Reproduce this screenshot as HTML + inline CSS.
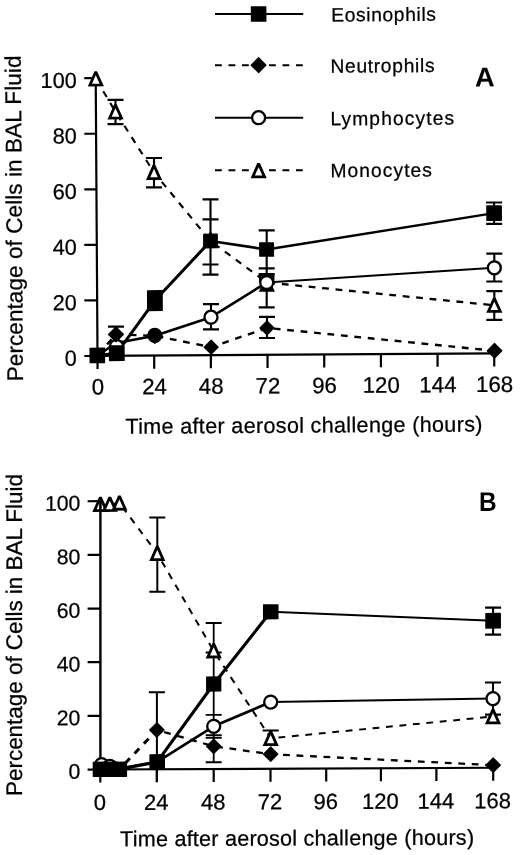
<!DOCTYPE html>
<html><head><meta charset="utf-8"><title>Figure</title>
<style>html,body{margin:0;padding:0;background:#fff;overflow:hidden}svg{display:block;position:absolute;left:0;top:0;filter:grayscale(1) blur(0.35px)}</style></head>
<body><svg width="520" height="855" viewBox="0 0 520 855">
<rect width="520" height="855" fill="#fff"/>
<g transform="rotate(-0.37 260 215)">
<line x1="216.3" y1="13.71" x2="304.5" y2="14.28" stroke="#000" stroke-width="2.0" stroke-linecap="butt"/>
<rect x="252.10" y="6.19" width="15.6" height="15.6" rx="0.6" fill="#000"/>
<line x1="215.97" y1="64.91" x2="304.17" y2="65.48" stroke="#000" stroke-width="2.0" stroke-dasharray="6.8 6.7" stroke-dashoffset="0" stroke-linecap="butt"/>
<polygon points="259.57,57.79 266.97,65.19 259.57,72.59 252.17,65.19" fill="#000" stroke="#000" stroke-width="1.2" stroke-linejoin="round"/>
<line x1="215.63" y1="117.41" x2="303.83" y2="117.98" stroke="#000" stroke-width="2.0" stroke-linecap="butt"/>
<circle cx="259.23" cy="117.69" r="6.5" fill="#fff" stroke="#000" stroke-width="2.3"/>
<line x1="215.29" y1="170.01" x2="303.49" y2="170.58" stroke="#000" stroke-width="2.0" stroke-dasharray="6.8 6.7" stroke-dashoffset="0" stroke-linecap="butt"/>
<polygon points="258.89,163.64 264.79,176.84 252.99,176.84" fill="#fff" stroke="#000" stroke-width="2.8" stroke-linejoin="miter" stroke-miterlimit="2"/>
<text x="332.45" y="21.96" font-family="Liberation Sans, sans-serif" font-size="19.3" font-weight="normal" text-anchor="start" fill="#000" stroke="#000" stroke-width="0.25" textLength="104.8" lengthAdjust="spacing">Eosinophils</text>
<text x="331.32" y="73.15" font-family="Liberation Sans, sans-serif" font-size="19.3" font-weight="normal" text-anchor="start" fill="#000" stroke="#000" stroke-width="0.25" textLength="104.2" lengthAdjust="spacing">Neutrophils</text>
<text x="330.98" y="125.75" font-family="Liberation Sans, sans-serif" font-size="19.3" font-weight="normal" text-anchor="start" fill="#000" stroke="#000" stroke-width="0.25" textLength="123.8" lengthAdjust="spacing">Lymphocytes</text>
<text x="330.64" y="177.65" font-family="Liberation Sans, sans-serif" font-size="19.3" font-weight="normal" text-anchor="start" fill="#000" stroke="#000" stroke-width="0.25" textLength="101.6" lengthAdjust="spacing">Monocytes</text>
<text x="475.83" y="87.89" font-family="Liberation Sans, sans-serif" font-size="27.3" font-weight="bold" text-anchor="start" fill="#000" textLength="19.7" lengthAdjust="spacingAndGlyphs">A</text>
<line x1="96.6" y1="75.94" x2="96.6" y2="355.95" stroke="#000" stroke-width="2.2" stroke-linecap="butt"/>
<line x1="94.59" y1="354.9" x2="494.41" y2="354.9" stroke="#000" stroke-width="2.2" stroke-linecap="butt"/>
<line x1="83.39" y1="354.86" x2="96.6" y2="354.95" stroke="#000" stroke-width="2.2" stroke-linecap="butt"/>
<line x1="83.75" y1="299.3" x2="96.6" y2="299.39" stroke="#000" stroke-width="2.2" stroke-linecap="butt"/>
<line x1="84.11" y1="243.74" x2="96.6" y2="243.82" stroke="#000" stroke-width="2.2" stroke-linecap="butt"/>
<line x1="84.47" y1="188.18" x2="96.6" y2="188.26" stroke="#000" stroke-width="2.2" stroke-linecap="butt"/>
<line x1="84.82" y1="132.62" x2="96.6" y2="132.7" stroke="#000" stroke-width="2.2" stroke-linecap="butt"/>
<line x1="85.18" y1="77.06" x2="96.6" y2="77.14" stroke="#000" stroke-width="2.2" stroke-linecap="butt"/>
<line x1="96.63" y1="354.4" x2="96.54" y2="368.0" stroke="#000" stroke-width="2.2" stroke-linecap="butt"/>
<line x1="153.3" y1="354.4" x2="153.22" y2="368.0" stroke="#000" stroke-width="2.2" stroke-linecap="butt"/>
<line x1="209.98" y1="354.4" x2="209.89" y2="368.0" stroke="#000" stroke-width="2.2" stroke-linecap="butt"/>
<line x1="266.65" y1="354.4" x2="266.56" y2="368.0" stroke="#000" stroke-width="2.2" stroke-linecap="butt"/>
<line x1="323.32" y1="354.4" x2="323.24" y2="368.0" stroke="#000" stroke-width="2.2" stroke-linecap="butt"/>
<line x1="380.0" y1="354.4" x2="379.91" y2="368.0" stroke="#000" stroke-width="2.2" stroke-linecap="butt"/>
<line x1="436.67" y1="354.4" x2="436.58" y2="368.0" stroke="#000" stroke-width="2.2" stroke-linecap="butt"/>
<line x1="493.34" y1="354.4" x2="493.26" y2="368.0" stroke="#000" stroke-width="2.2" stroke-linecap="butt"/>
<text x="75.83" y="364.51" font-family="Liberation Sans, sans-serif" font-size="21.7" font-weight="normal" text-anchor="end" fill="#000" stroke="#000" stroke-width="0.25">0</text>
<text x="76.19" y="308.95" font-family="Liberation Sans, sans-serif" font-size="21.7" font-weight="normal" text-anchor="end" fill="#000" stroke="#000" stroke-width="0.25">20</text>
<text x="76.54" y="253.39" font-family="Liberation Sans, sans-serif" font-size="21.7" font-weight="normal" text-anchor="end" fill="#000" stroke="#000" stroke-width="0.25">40</text>
<text x="76.9" y="197.83" font-family="Liberation Sans, sans-serif" font-size="21.7" font-weight="normal" text-anchor="end" fill="#000" stroke="#000" stroke-width="0.25">60</text>
<text x="77.26" y="142.27" font-family="Liberation Sans, sans-serif" font-size="21.7" font-weight="normal" text-anchor="end" fill="#000" stroke="#000" stroke-width="0.25">80</text>
<text x="77.62" y="86.71" font-family="Liberation Sans, sans-serif" font-size="21.7" font-weight="normal" text-anchor="end" fill="#000" stroke="#000" stroke-width="0.25">100</text>
<text x="96.77" y="393.5" font-family="Liberation Sans, sans-serif" font-size="22.3" font-weight="normal" text-anchor="middle" fill="#000" stroke="#000" stroke-width="0.25">0</text>
<text x="153.44" y="393.5" font-family="Liberation Sans, sans-serif" font-size="22.3" font-weight="normal" text-anchor="middle" fill="#000" stroke="#000" stroke-width="0.25">24</text>
<text x="210.12" y="393.5" font-family="Liberation Sans, sans-serif" font-size="22.3" font-weight="normal" text-anchor="middle" fill="#000" stroke="#000" stroke-width="0.25">48</text>
<text x="266.79" y="393.5" font-family="Liberation Sans, sans-serif" font-size="22.3" font-weight="normal" text-anchor="middle" fill="#000" stroke="#000" stroke-width="0.25">72</text>
<text x="323.46" y="393.5" font-family="Liberation Sans, sans-serif" font-size="22.3" font-weight="normal" text-anchor="middle" fill="#000" stroke="#000" stroke-width="0.25">96</text>
<text x="380.14" y="393.5" font-family="Liberation Sans, sans-serif" font-size="22.3" font-weight="normal" text-anchor="middle" fill="#000" stroke="#000" stroke-width="0.25">120</text>
<text x="436.81" y="393.5" font-family="Liberation Sans, sans-serif" font-size="22.3" font-weight="normal" text-anchor="middle" fill="#000" stroke="#000" stroke-width="0.25">144</text>
<text x="493.49" y="393.5" font-family="Liberation Sans, sans-serif" font-size="22.3" font-weight="normal" text-anchor="middle" fill="#000" stroke="#000" stroke-width="0.25">168</text>
<text x="124.09" y="432.93" font-family="Liberation Sans, sans-serif" font-size="21.6" font-weight="normal" text-anchor="start" fill="#000" stroke="#000" stroke-width="0.25" textLength="357.0" lengthAdjust="spacing">Time after aerosol challenge (hours)</text>
<text x="21.83" y="379.77" font-family="Liberation Sans, sans-serif" font-size="22.6" font-weight="normal" text-anchor="start" fill="#000" stroke="#000" stroke-width="0.25" textLength="325.8" lengthAdjust="spacing" transform="rotate(-90 21.83 379.77)">Percentage of Cells in BAL Fluid</text>
<polyline points="96.68,77.74 116.17,110.87 154.28,171.72 210.33,240.68 266.26,282.54" fill="none" stroke="#000" stroke-width="2.1" stroke-dasharray="6.8 6.7" stroke-dashoffset="12.5" stroke-linejoin="round"/>
<polyline points="266.26,282.54 493.72,306.81" fill="none" stroke="#000" stroke-width="2.3" stroke-dasharray="6.8 6.7" stroke-dashoffset="11.8" stroke-linejoin="round"/>
<polyline points="96.39,354.35 115.23,333.47 154.02,335.12 210.35,346.88 266.27,327.95 493.62,352.31" fill="none" stroke="#000" stroke-width="2.4" stroke-dasharray="6.8 6.7" stroke-dashoffset="12.2" stroke-linejoin="round"/>
<polyline points="96.39,354.35 115.67,342.07 154.02,335.12 210.34,316.88 266.26,282.54" fill="none" stroke="#000" stroke-width="2.6" stroke-linejoin="round"/>
<polyline points="266.26,282.54 493.96,269.31" fill="none" stroke="#000" stroke-width="2.0" stroke-linejoin="round"/>
<polyline points="96.39,354.35 115.91,352.28 154.35,299.92 210.33,240.68" fill="none" stroke="#000" stroke-width="3.0" stroke-linejoin="round"/>
<polyline points="210.33,240.68 266.38,249.54" fill="none" stroke="#000" stroke-width="2.7" stroke-linejoin="round"/>
<polyline points="266.38,249.54 494.11,214.61" fill="none" stroke="#000" stroke-width="2.3" stroke-linejoin="round"/>
<line x1="116.24" y1="98.97" x2="116.09" y2="123.17" stroke="#000" stroke-width="2.1" stroke-linecap="butt"/>
<line x1="108.24" y1="98.92" x2="124.24" y2="99.02" stroke="#000" stroke-width="2.2" stroke-linecap="butt"/>
<line x1="108.09" y1="123.12" x2="124.09" y2="123.22" stroke="#000" stroke-width="2.2" stroke-linecap="butt"/>
<line x1="154.37" y1="157.32" x2="154.18" y2="186.62" stroke="#000" stroke-width="2.1" stroke-linecap="butt"/>
<line x1="146.37" y1="157.26" x2="162.37" y2="157.37" stroke="#000" stroke-width="2.2" stroke-linecap="butt"/>
<line x1="146.18" y1="186.56" x2="162.18" y2="186.67" stroke="#000" stroke-width="2.2" stroke-linecap="butt"/>
<line x1="210.6" y1="198.98" x2="210.11" y2="274.38" stroke="#000" stroke-width="2.1" stroke-linecap="butt"/>
<line x1="202.6" y1="198.93" x2="218.6" y2="199.03" stroke="#000" stroke-width="2.2" stroke-linecap="butt"/>
<line x1="202.47" y1="218.93" x2="218.47" y2="219.03" stroke="#000" stroke-width="2.2" stroke-linecap="butt"/>
<line x1="202.18" y1="264.13" x2="218.18" y2="264.23" stroke="#000" stroke-width="2.2" stroke-linecap="butt"/>
<line x1="202.11" y1="274.33" x2="218.11" y2="274.43" stroke="#000" stroke-width="2.2" stroke-linecap="butt"/>
<line x1="266.6" y1="230.44" x2="266.1" y2="307.44" stroke="#000" stroke-width="2.1" stroke-linecap="butt"/>
<line x1="258.6" y1="230.39" x2="274.6" y2="230.49" stroke="#000" stroke-width="2.2" stroke-linecap="butt"/>
<line x1="258.36" y1="268.29" x2="274.36" y2="268.39" stroke="#000" stroke-width="2.2" stroke-linecap="butt"/>
<line x1="258.32" y1="274.09" x2="274.32" y2="274.19" stroke="#000" stroke-width="2.2" stroke-linecap="butt"/>
<line x1="258.1" y1="307.39" x2="274.1" y2="307.49" stroke="#000" stroke-width="2.2" stroke-linecap="butt"/>
<line x1="210.42" y1="303.88" x2="210.26" y2="329.08" stroke="#000" stroke-width="2.1" stroke-linecap="butt"/>
<line x1="202.42" y1="303.83" x2="218.42" y2="303.94" stroke="#000" stroke-width="2.2" stroke-linecap="butt"/>
<line x1="202.26" y1="329.03" x2="218.26" y2="329.14" stroke="#000" stroke-width="2.2" stroke-linecap="butt"/>
<line x1="266.34" y1="316.85" x2="266.21" y2="338.05" stroke="#000" stroke-width="2.1" stroke-linecap="butt"/>
<line x1="258.34" y1="316.79" x2="274.34" y2="316.9" stroke="#000" stroke-width="2.2" stroke-linecap="butt"/>
<line x1="258.21" y1="337.99" x2="274.21" y2="338.1" stroke="#000" stroke-width="2.2" stroke-linecap="butt"/>
<line x1="115.28" y1="325.77" x2="115.19" y2="339.07" stroke="#000" stroke-width="2.1" stroke-linecap="butt"/>
<line x1="107.28" y1="325.72" x2="123.28" y2="325.82" stroke="#000" stroke-width="2.2" stroke-linecap="butt"/>
<line x1="494.18" y1="204.01" x2="494.04" y2="225.41" stroke="#000" stroke-width="2.1" stroke-linecap="butt"/>
<line x1="486.18" y1="203.96" x2="502.18" y2="204.06" stroke="#000" stroke-width="2.2" stroke-linecap="butt"/>
<line x1="486.04" y1="225.36" x2="502.04" y2="225.46" stroke="#000" stroke-width="2.2" stroke-linecap="butt"/>
<line x1="494.05" y1="255.11" x2="493.87" y2="283.01" stroke="#000" stroke-width="2.1" stroke-linecap="butt"/>
<line x1="486.05" y1="255.06" x2="502.05" y2="255.16" stroke="#000" stroke-width="2.2" stroke-linecap="butt"/>
<line x1="485.87" y1="282.96" x2="501.87" y2="283.06" stroke="#000" stroke-width="2.2" stroke-linecap="butt"/>
<line x1="493.81" y1="292.61" x2="493.62" y2="321.31" stroke="#000" stroke-width="2.1" stroke-linecap="butt"/>
<line x1="485.81" y1="292.56" x2="501.81" y2="292.66" stroke="#000" stroke-width="2.2" stroke-linecap="butt"/>
<line x1="485.62" y1="321.26" x2="501.62" y2="321.36" stroke="#000" stroke-width="2.2" stroke-linecap="butt"/>
<polygon points="96.68,70.74 102.58,83.94 90.78,83.94" fill="#fff" stroke="#000" stroke-width="2.8" stroke-linejoin="miter" stroke-miterlimit="2"/>
<polygon points="116.17,103.87 122.07,117.07 110.27,117.07" fill="#fff" stroke="#000" stroke-width="2.8" stroke-linejoin="miter" stroke-miterlimit="2"/>
<polygon points="154.28,164.72 160.18,177.92 148.38,177.92" fill="#fff" stroke="#000" stroke-width="2.8" stroke-linejoin="miter" stroke-miterlimit="2"/>
<polygon points="210.34,232.88 216.24,246.08 204.44,246.08" fill="#000" stroke="#000" stroke-width="2.8" stroke-linejoin="miter" stroke-miterlimit="2"/>
<polygon points="266.35,277.14 272.25,290.34 260.45,290.34" fill="#000" stroke="#000" stroke-width="2.8" stroke-linejoin="miter" stroke-miterlimit="2"/>
<rect x="258.54" y="273.84" width="15.5" height="8.2" rx="0.6" fill="#000"/>
<polygon points="493.72,299.71 499.62,312.91 487.82,312.91" fill="#fff" stroke="#000" stroke-width="2.8" stroke-linejoin="miter" stroke-miterlimit="2"/>
<circle cx="115.65" cy="345.37" r="6.5" fill="#fff" stroke="#000" stroke-width="2.3"/>
<polygon points="115.23,325.97 122.73,333.47 115.23,340.97 107.73,333.47" fill="#000" stroke="#000" stroke-width="1.2" stroke-linejoin="round"/>
<polygon points="210.35,339.88 217.35,346.88 210.35,353.88 203.35,346.88" fill="#000" stroke="#000" stroke-width="1.2" stroke-linejoin="round"/>
<polygon points="266.27,320.95 273.27,327.95 266.27,334.95 259.27,327.95" fill="#000" stroke="#000" stroke-width="1.2" stroke-linejoin="round"/>
<polygon points="493.62,345.01 500.92,352.31 493.62,359.61 486.32,352.31" fill="#000" stroke="#000" stroke-width="1.2" stroke-linejoin="round"/>
<circle cx="154.02" cy="334.72" r="6.5" fill="#000" stroke="#000" stroke-width="2.3"/>
<polygon points="154.02,327.92 161.42,335.32 154.02,342.72 146.62,335.32" fill="#000" stroke="#000" stroke-width="1.2" stroke-linejoin="round"/>
<circle cx="210.34" cy="316.88" r="6.5" fill="#fff" stroke="#000" stroke-width="2.3"/>
<circle cx="266.26" cy="282.54" r="6.5" fill="#fff" stroke="#000" stroke-width="2.3"/>
<circle cx="493.96" cy="269.31" r="6.5" fill="#fff" stroke="#000" stroke-width="2.3"/>
<rect x="88.59" y="346.55" width="15.6" height="15.6" rx="0.6" fill="#000"/>
<rect x="108.01" y="344.38" width="15.8" height="15.8" rx="0.6" fill="#000"/>
<rect x="146.45" y="289.42" width="15.8" height="21" rx="0.6" fill="#000"/>
<rect x="202.93" y="233.28" width="14.8" height="14.8" rx="0.6" fill="#000"/>
<rect x="258.88" y="242.24" width="15.0" height="14.6" rx="0.6" fill="#000"/>
<rect x="486.26" y="206.76" width="15.7" height="15.7" rx="0.6" fill="#000"/>
</g>
<g transform="translate(0 1.162) skewY(-0.256)">
<line x1="100.4" y1="499.69" x2="100.4" y2="770.29" stroke="#000" stroke-width="2.4" stroke-linecap="butt"/>
<line x1="99.2" y1="768.79" x2="494.3" y2="768.79" stroke="#000" stroke-width="2.2" stroke-linecap="butt"/>
<line x1="87.6" y1="768.76" x2="100.4" y2="768.81" stroke="#000" stroke-width="2.2" stroke-linecap="butt"/>
<line x1="87.6" y1="715.1" x2="100.4" y2="715.15" stroke="#000" stroke-width="2.2" stroke-linecap="butt"/>
<line x1="87.6" y1="661.44" x2="100.4" y2="661.49" stroke="#000" stroke-width="2.2" stroke-linecap="butt"/>
<line x1="87.6" y1="607.78" x2="100.4" y2="607.83" stroke="#000" stroke-width="2.2" stroke-linecap="butt"/>
<line x1="87.6" y1="554.12" x2="100.4" y2="554.17" stroke="#000" stroke-width="2.2" stroke-linecap="butt"/>
<line x1="87.6" y1="500.46" x2="100.4" y2="500.51" stroke="#000" stroke-width="2.2" stroke-linecap="butt"/>
<line x1="100.3" y1="768.29" x2="100.3" y2="781.89" stroke="#000" stroke-width="2.2" stroke-linecap="butt"/>
<line x1="156.8" y1="768.29" x2="156.8" y2="781.89" stroke="#000" stroke-width="2.2" stroke-linecap="butt"/>
<line x1="213.7" y1="768.29" x2="213.7" y2="781.89" stroke="#000" stroke-width="2.2" stroke-linecap="butt"/>
<line x1="270.5" y1="768.29" x2="270.5" y2="781.89" stroke="#000" stroke-width="2.2" stroke-linecap="butt"/>
<line x1="326.2" y1="768.29" x2="326.2" y2="781.89" stroke="#000" stroke-width="2.2" stroke-linecap="butt"/>
<line x1="380.9" y1="768.29" x2="380.9" y2="781.89" stroke="#000" stroke-width="2.2" stroke-linecap="butt"/>
<line x1="436.4" y1="768.29" x2="436.4" y2="781.89" stroke="#000" stroke-width="2.2" stroke-linecap="butt"/>
<line x1="493.2" y1="768.29" x2="493.2" y2="781.89" stroke="#000" stroke-width="2.2" stroke-linecap="butt"/>
<text x="80.3" y="777.98" font-family="Liberation Sans, sans-serif" font-size="21.2" font-weight="normal" text-anchor="end" fill="#000" stroke="#000" stroke-width="0.25">0</text>
<text x="80.3" y="724.32" font-family="Liberation Sans, sans-serif" font-size="21.2" font-weight="normal" text-anchor="end" fill="#000" stroke="#000" stroke-width="0.25">20</text>
<text x="80.3" y="670.66" font-family="Liberation Sans, sans-serif" font-size="21.2" font-weight="normal" text-anchor="end" fill="#000" stroke="#000" stroke-width="0.25">40</text>
<text x="80.3" y="617.0" font-family="Liberation Sans, sans-serif" font-size="21.2" font-weight="normal" text-anchor="end" fill="#000" stroke="#000" stroke-width="0.25">60</text>
<text x="80.3" y="563.34" font-family="Liberation Sans, sans-serif" font-size="21.2" font-weight="normal" text-anchor="end" fill="#000" stroke="#000" stroke-width="0.25">80</text>
<text x="80.3" y="509.68" font-family="Liberation Sans, sans-serif" font-size="21.2" font-weight="normal" text-anchor="end" fill="#000" stroke="#000" stroke-width="0.25">100</text>
<text x="99.8" y="809.38" font-family="Liberation Sans, sans-serif" font-size="22.0" font-weight="normal" text-anchor="middle" fill="#000" stroke="#000" stroke-width="0.25">0</text>
<text x="156.3" y="809.38" font-family="Liberation Sans, sans-serif" font-size="22.0" font-weight="normal" text-anchor="middle" fill="#000" stroke="#000" stroke-width="0.25">24</text>
<text x="213.2" y="809.38" font-family="Liberation Sans, sans-serif" font-size="22.0" font-weight="normal" text-anchor="middle" fill="#000" stroke="#000" stroke-width="0.25">48</text>
<text x="270.0" y="809.38" font-family="Liberation Sans, sans-serif" font-size="22.0" font-weight="normal" text-anchor="middle" fill="#000" stroke="#000" stroke-width="0.25">72</text>
<text x="325.7" y="809.38" font-family="Liberation Sans, sans-serif" font-size="22.0" font-weight="normal" text-anchor="middle" fill="#000" stroke="#000" stroke-width="0.25">96</text>
<text x="380.4" y="809.38" font-family="Liberation Sans, sans-serif" font-size="22.0" font-weight="normal" text-anchor="middle" fill="#000" stroke="#000" stroke-width="0.25">120</text>
<text x="435.9" y="809.38" font-family="Liberation Sans, sans-serif" font-size="22.0" font-weight="normal" text-anchor="middle" fill="#000" stroke="#000" stroke-width="0.25">144</text>
<text x="492.7" y="809.38" font-family="Liberation Sans, sans-serif" font-size="22.0" font-weight="normal" text-anchor="middle" fill="#000" stroke="#000" stroke-width="0.25">168</text>
<text x="120.1" y="845.67" font-family="Liberation Sans, sans-serif" font-size="21.6" font-weight="normal" text-anchor="start" fill="#000" stroke="#000" stroke-width="0.25" textLength="354.0" lengthAdjust="spacing">Time after aerosol challenge (hours)</text>
<text x="21.9" y="794.94" font-family="Liberation Sans, sans-serif" font-size="22.6" font-weight="normal" text-anchor="start" fill="#000" stroke="#000" stroke-width="0.25" textLength="322" lengthAdjust="spacing" transform="rotate(-90 21.9 794.94)">Percentage of Cells in BAL Fluid</text>
<text x="478.9" y="511.98" font-family="Liberation Sans, sans-serif" font-size="27.0" font-weight="bold" text-anchor="start" fill="#000" textLength="17.6" lengthAdjust="spacingAndGlyphs">B</text>
<polyline points="100.4,503.59 109.8,503.63 119.4,502.37 157.3,553.14 213.7,650.79 270.7,738.35 493.0,717.54" fill="none" stroke="#000" stroke-width="2.0" stroke-dasharray="6.8 6.7" stroke-dashoffset="3.0" stroke-linejoin="round"/>
<polyline points="119.4,768.67 156.9,729.54" fill="none" stroke="#000" stroke-width="3.0" stroke-dasharray="6.8 6.7" stroke-dashoffset="5.1" stroke-linejoin="round"/>
<polyline points="156.9,729.54 213.7,746.09 270.7,754.25 493.2,766.24" fill="none" stroke="#000" stroke-width="2.3" stroke-dasharray="6.8 6.7" stroke-dashoffset="5.9" stroke-linejoin="round"/>
<polyline points="119.4,767.87 157.2,761.44 213.7,726.09 270.7,702.15" fill="none" stroke="#000" stroke-width="2.7" stroke-linejoin="round"/>
<polyline points="270.7,702.15 493.0,699.64" fill="none" stroke="#000" stroke-width="2.0" stroke-linejoin="round"/>
<polyline points="119.4,768.67 157.2,761.44 213.7,683.79 270.75,611.85" fill="none" stroke="#000" stroke-width="3.1" stroke-linejoin="round"/>
<polyline points="270.75,611.85 493.1,621.79" fill="none" stroke="#000" stroke-width="2.0" stroke-linejoin="round"/>
<line x1="157.3" y1="517.04" x2="157.3" y2="591.24" stroke="#000" stroke-width="2.0" stroke-linecap="butt"/>
<line x1="149.3" y1="517.01" x2="165.3" y2="517.08" stroke="#000" stroke-width="2.1" stroke-linecap="butt"/>
<line x1="149.3" y1="591.21" x2="165.3" y2="591.28" stroke="#000" stroke-width="2.1" stroke-linecap="butt"/>
<line x1="156.9" y1="691.84" x2="156.9" y2="781.54" stroke="#000" stroke-width="2.0" stroke-linecap="butt"/>
<line x1="148.9" y1="691.8" x2="164.9" y2="691.88" stroke="#000" stroke-width="2.1" stroke-linecap="butt"/>
<line x1="213.7" y1="622.79" x2="213.7" y2="762.09" stroke="#000" stroke-width="1.8" stroke-linecap="butt"/>
<line x1="205.7" y1="622.76" x2="221.7" y2="622.83" stroke="#000" stroke-width="1.9000000000000001" stroke-linecap="butt"/>
<line x1="205.7" y1="652.26" x2="221.7" y2="652.33" stroke="#000" stroke-width="1.9000000000000001" stroke-linecap="butt"/>
<line x1="205.7" y1="714.66" x2="221.7" y2="714.73" stroke="#000" stroke-width="1.9000000000000001" stroke-linecap="butt"/>
<line x1="205.7" y1="735.06" x2="221.7" y2="735.13" stroke="#000" stroke-width="1.9000000000000001" stroke-linecap="butt"/>
<line x1="205.7" y1="737.66" x2="221.7" y2="737.73" stroke="#000" stroke-width="1.9000000000000001" stroke-linecap="butt"/>
<line x1="205.7" y1="762.06" x2="221.7" y2="762.13" stroke="#000" stroke-width="1.9000000000000001" stroke-linecap="butt"/>
<line x1="270.7" y1="730.55" x2="270.7" y2="745.05" stroke="#000" stroke-width="2.0" stroke-linecap="butt"/>
<line x1="262.7" y1="730.51" x2="278.7" y2="730.58" stroke="#000" stroke-width="2.1" stroke-linecap="butt"/>
<line x1="493.1" y1="608.64" x2="493.1" y2="635.74" stroke="#000" stroke-width="2.1" stroke-linecap="butt"/>
<line x1="485.1" y1="608.61" x2="501.1" y2="608.68" stroke="#000" stroke-width="2.2" stroke-linecap="butt"/>
<line x1="485.1" y1="635.71" x2="501.1" y2="635.78" stroke="#000" stroke-width="2.2" stroke-linecap="butt"/>
<line x1="493.0" y1="683.54" x2="493.0" y2="717.04" stroke="#000" stroke-width="2.1" stroke-linecap="butt"/>
<line x1="485.0" y1="683.51" x2="501.0" y2="683.58" stroke="#000" stroke-width="2.2" stroke-linecap="butt"/>
<line x1="485.0" y1="715.71" x2="501.0" y2="715.78" stroke="#000" stroke-width="2.2" stroke-linecap="butt"/>
<polygon points="100.4,496.59 106.30,509.79 94.50,509.79" fill="#fff" stroke="#000" stroke-width="2.8" stroke-linejoin="miter" stroke-miterlimit="2"/>
<polygon points="109.8,496.63 115.70,509.83 103.90,509.83" fill="#fff" stroke="#000" stroke-width="2.8" stroke-linejoin="miter" stroke-miterlimit="2"/>
<polygon points="119.4,495.37 125.30,508.57 113.50,508.57" fill="#fff" stroke="#000" stroke-width="2.8" stroke-linejoin="miter" stroke-miterlimit="2"/>
<line x1="100.4" y1="496.79" x2="100.4" y2="511.29" stroke="#000" stroke-width="2.6" stroke-linecap="butt"/>
<polygon points="157.3,545.94 163.20,559.14 151.40,559.14" fill="#fff" stroke="#000" stroke-width="2.8" stroke-linejoin="miter" stroke-miterlimit="2"/>
<polygon points="213.7,643.59 219.60,656.79 207.80,656.79" fill="#fff" stroke="#000" stroke-width="2.8" stroke-linejoin="miter" stroke-miterlimit="2"/>
<polygon points="270.7,731.45 276.60,744.65 264.80,744.65" fill="#fff" stroke="#000" stroke-width="2.8" stroke-linejoin="miter" stroke-miterlimit="2"/>
<polygon points="493.0,710.64 498.90,723.84 487.10,723.84" fill="#fff" stroke="#000" stroke-width="2.8" stroke-linejoin="miter" stroke-miterlimit="2"/>
<polygon points="156.9,722.34 164.10,729.54 156.9,736.74 149.70,729.54" fill="#000" stroke="#000" stroke-width="1.2" stroke-linejoin="round"/>
<polygon points="213.7,738.89 220.90,746.09 213.7,753.29 206.50,746.09" fill="#000" stroke="#000" stroke-width="1.2" stroke-linejoin="round"/>
<polygon points="270.7,747.05 277.90,754.25 270.7,761.45 263.50,754.25" fill="#000" stroke="#000" stroke-width="1.2" stroke-linejoin="round"/>
<polygon points="493.2,759.04 500.40,766.24 493.2,773.44 486.00,766.24" fill="#000" stroke="#000" stroke-width="1.2" stroke-linejoin="round"/>
<circle cx="101.5" cy="763.89" r="6.4" fill="#fff" stroke="#000" stroke-width="2.3"/>
<circle cx="109.8" cy="765.53" r="6.4" fill="#fff" stroke="#000" stroke-width="2.3"/>
<circle cx="213.7" cy="726.09" r="6.5" fill="#fff" stroke="#000" stroke-width="2.3"/>
<circle cx="270.7" cy="702.15" r="6.5" fill="#fff" stroke="#000" stroke-width="2.3"/>
<circle cx="493.0" cy="699.64" r="6.5" fill="#fff" stroke="#000" stroke-width="2.3"/>
<rect x="92.70" y="760.89" width="15.4" height="15.4" rx="0.6" fill="#000"/>
<rect x="102.10" y="760.93" width="15.4" height="15.4" rx="0.6" fill="#000"/>
<rect x="111.70" y="760.97" width="15.4" height="15.4" rx="0.6" fill="#000"/>
<rect x="149.40" y="753.64" width="15.6" height="15.6" rx="0.6" fill="#000"/>
<rect x="206.05" y="676.14" width="15.3" height="15.3" rx="0.6" fill="#000"/>
<rect x="262.95" y="604.25" width="15.6" height="15.2" rx="0.6" fill="#000"/>
<rect x="485.25" y="613.94" width="15.7" height="15.7" rx="0.6" fill="#000"/>
</g>
</svg></body></html>
